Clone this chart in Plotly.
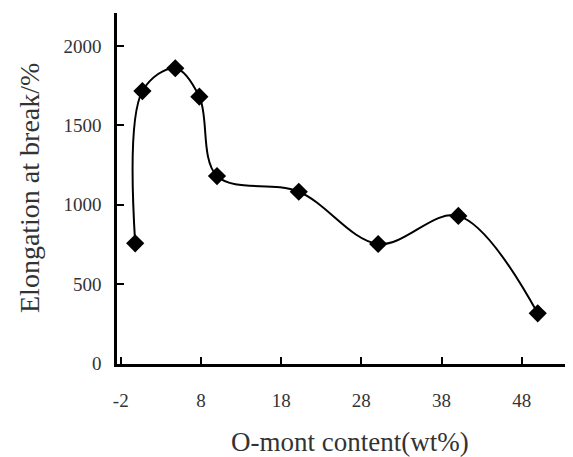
import plotly.graph_objects as go

omont_content = [-0.2, 0.7, 4.8, 7.8, 10.0, 20.2, 30.1, 40.1, 50.0]
elongation = [757, 1716, 1860, 1681, 1181, 1082, 753, 930, 316]
x_ticks = [-2, 8, 18, 28, 38, 48]
y_ticks = [0, 500, 1000, 1500, 2000]

FONT = "Liberation Serif"

fig = go.Figure()
fig.add_trace(go.Scatter(
    x=omont_content, y=elongation,
    mode="lines+markers",
    line=dict(color="black", width=2, shape="spline", smoothing=1.0),
    marker=dict(symbol="diamond", size=14, color="black"),
    showlegend=False,
))

# page body has an 8px margin, so the figure is offset by (8, 8)
fig.update_layout(
    width=565, height=449,
    margin=dict(l=109, r=0, t=5, b=93),
    plot_bgcolor="white", paper_bgcolor="white",
    font=dict(family=FONT, color="#222"),
)
fig.update_xaxes(
    range=[-2.47, 54.4],
    tickvals=x_ticks, ticktext=[str(v) for v in x_ticks],
    showline=True, linecolor="black", linewidth=2.5,
    ticks="inside", ticklen=7, tickwidth=2, tickcolor="black",
    showgrid=False, zeroline=False, automargin=False,
    tickfont=dict(family=FONT, size=19, color="#333"),
    ticklabelstandoff=17,
)
fig.update_yaxes(
    range=[-3, 2208],
    tickvals=y_ticks, ticktext=[str(v) for v in y_ticks],
    showline=True, linecolor="black", linewidth=2.5,
    ticks="inside", ticklen=7, tickwidth=2, tickcolor="black",
    showgrid=False, zeroline=False, automargin=False,
    tickfont=dict(family=FONT, size=19, color="#333"),
    ticklabelstandoff=9,
)
fig.add_annotation(
    text="O-mont content(wt%)", xref="paper", yref="paper",
    x=(350 - 117) / 456, y=-(442 - 364) / 351,
    xanchor="center", yanchor="middle", showarrow=False,
    font=dict(family=FONT, size=27, color="#333"),
)
fig.add_annotation(
    text="Elongation at break/%", xref="paper", yref="paper",
    x=-(117 - 29) / 456, y=(364 - 188) / 351, textangle=-90,
    xanchor="center", yanchor="middle", showarrow=False,
    font=dict(family=FONT, size=28, color="#333"),
)

fig.write_html("out.html")
